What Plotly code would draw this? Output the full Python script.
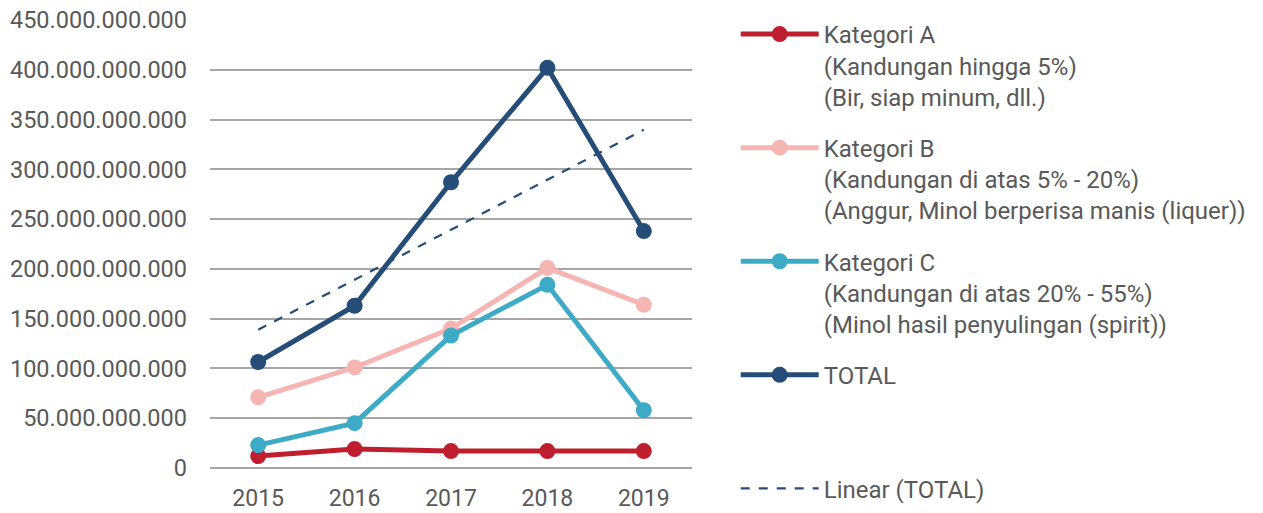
import numpy as np
import plotly.graph_objects as go

years = ["2015", "2016", "2017", "2018", "2019"]
kat_a = [12e9, 19e9, 17e9, 17e9, 17e9]
kat_b = [71e9, 101e9, 140e9, 201e9, 164e9]
kat_c = [23e9, 45e9, 133e9, 184e9, 58e9]
total = [106.5e9, 163e9, 287e9, 402e9, 238e9]
ytick_vals = [0, 50e9, 100e9, 150e9, 200e9, 250e9, 300e9, 350e9, 400e9, 450e9]

names = [
    "Kategori A<br>(Kandungan hingga 5%)<br>(Bir, siap minum, dll.)",
    "Kategori B<br>(Kandungan di atas 5% - 20%)<br>(Anggur, Minol berperisa manis (liquer))",
    "Kategori C<br>(Kandungan di atas 20% - 55%)<br>(Minol hasil penyulingan (spirit))",
    "TOTAL<br> <br> ",
    "Linear (TOTAL)",
]
colors = ["#be1e2d", "#f4b5b3", "#3daac6", "#264d77"]
groups = ["a", "b", "c", "t", "lin"]

xi = np.arange(1, len(years) + 1)
slope, intercept = np.polyfit(xi, np.array(total), 1)
trend = slope * xi + intercept

fig = go.Figure()
for vals, nm, c, g in zip([kat_a, kat_b, kat_c, total], names[:4], colors, groups[:4]):
    fig.add_trace(go.Scatter(
        x=years, y=vals, name=nm, mode="lines+markers", legendgroup=g,
        line=dict(color=c, width=5), marker=dict(color=c, size=16),
    ))
fig.add_trace(go.Scatter(
    x=years, y=trend, name=names[4], mode="lines", legendgroup=groups[4],
    line=dict(color="#264d77", width=2.2, dash="dash"),
))

font_family = "Roboto, 'Noto Sans', sans-serif"
fig.update_layout(
    width=1263, height=513,
    margin=dict(l=210, r=568, t=20, b=45),
    paper_bgcolor="white", plot_bgcolor="white",
    separators=",.",
    font=dict(family=font_family, size=23, color="#595959"),
    xaxis=dict(type="category", range=[-0.5, 4.5], showgrid=False,
               showline=False, ticks="", ticklabelstandoff=14,
               automargin=False, tickfont=dict(size=23)),
    yaxis=dict(range=[0, 450e9], tickvals=ytick_vals,
               tickformat=",.0f", showgrid=True, gridcolor="#a6a6a6",
               gridwidth=2, zeroline=True, zerolinecolor="#a6a6a6",
               zerolinewidth=2, showline=False, ticks="",
               ticklabelstandoff=22, automargin=False,
               tickfont=dict(size=23.5)),
    legend=dict(x=1.0907, y=1.018, xanchor="left", yanchor="top",
                valign="top", tracegroupgap=17, itemwidth=78,
                maxheight=1.0,
                font=dict(size=24, color="#595959"),
                bgcolor="rgba(0,0,0,0)", traceorder="grouped"),
    showlegend=True,
)
fig.write_html("out.html", config={"displayModeBar": False},
               post_script="document.body.style.margin='0';document.body.style.padding='0';")
